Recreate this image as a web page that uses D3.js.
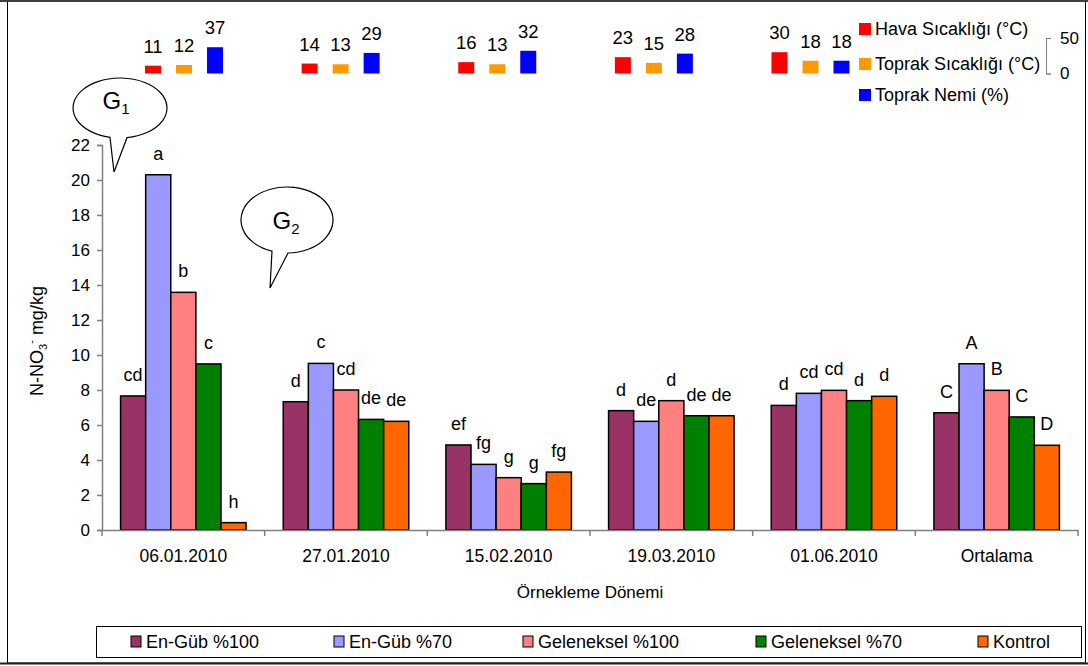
<!DOCTYPE html>
<html>
<head>
<meta charset="utf-8">
<script src="https://cdn.jsdelivr.net/npm/d3@7/dist/d3.min.js"></script>
<style>
  html, body { margin: 0; padding: 0; background: #fff; }
  svg { display: block; font-family: "Liberation Sans", Arial, sans-serif; }
</style>
</head>
<body>
<svg id="chart" width="1088" height="666"></svg>
<script>
// Sampling periods and treatments
const categories = ["06.01.2010", "27.01.2010", "15.02.2010", "19.03.2010", "01.06.2010", "Ortalama"];
const series = ["En-Güb %100", "En-Güb %70", "Geleneksel %100", "Geleneksel %70", "Kontrol"];
const seriesColors = ["#993366", "#9999FF", "#FF8080", "#008000", "#FF6600"];

// N-NO3 (mg/kg) per treatment
const enGub100 = [7.66, 7.33, 4.86, 6.82, 7.12, 6.70];
const enGub70 = [20.3, 9.52, 3.75, 6.21, 7.81, 9.50];
const geleneksel100 = [13.58, 8.0, 2.99, 7.39, 7.98, 7.98];
const geleneksel70 = [9.49, 6.32, 2.65, 6.53, 7.39, 6.46];
const kontrol = [0.42, 6.21, 3.31, 6.53, 7.64, 4.84];

// Significance groups shown above the bars
const harfEnGub100 = ["cd", "d", "ef", "d", "d", "C"];
const harfEnGub70 = ["a", "c", "fg", "de", "cd", "A"];
const harfGeleneksel100 = ["b", "cd", "g", "d", "cd", "B"];
const harfGeleneksel70 = ["c", "de", "g", "de", "d", "C"];
const harfKontrol = ["h", "de", "fg", "de", "d", "D"];

const yTicks = [0, 2, 4, 6, 8, 10, 12, 14, 16, 18, 20, 22];

// Climate values for each sampling date
const climateDates = categories.slice(0, 5);
const climateNames = ["Hava Sıcaklığı (°C)", "Toprak Sıcaklığı (°C)", "Toprak Nemi (%)"];
const climateColors = ["#FF0000", "#FF9900", "#0000FF"];
const havaSicakligi = [11, 14, 16, 23, 30];
const toprakSicakligi = [12, 13, 13, 15, 18];
const toprakNemi = [37, 29, 32, 28, 18];
const climateTicks = [0, 50];

const values = [enGub100, enGub70, geleneksel100, geleneksel70, kontrol];
const letters = [harfEnGub100, harfEnGub70, harfGeleneksel100, harfGeleneksel70, harfKontrol];
const climate = [havaSicakligi, toprakSicakligi, toprakNemi];

const FONT = "Liberation Sans, Arial, sans-serif";
const svg = d3.select("#chart");

// Outer frame
svg.append("rect").attr("x", 7.5).attr("y", 1).attr("width", 1078).attr("height", 662)
  .attr("fill", "none").attr("stroke", "#000").attr("stroke-width", 1);
svg.append("line").attr("x1", 0).attr("x2", 1088).attr("y1", 1).attr("y2", 1)
  .attr("stroke", "#404040").attr("stroke-width", 2);
svg.append("line").attr("x1", 0).attr("x2", 1088).attr("y1", 663.5).attr("y2", 663.5)
  .attr("stroke", "#202020").attr("stroke-width", 2);

// Main scales
const x0 = d3.scaleBand().domain(categories).range([102, 1078]).padding(0);
const x1 = d3.scaleBand().domain(series).range([0, x0.bandwidth()])
  .paddingInner(0).paddingOuter(0.74);
const y = d3.scaleLinear().domain([0, 22]).range([530, 145]);

// Bars
const rows = categories.map((c, i) => ({
  cat: c,
  items: series.map((s, j) => ({ s, j, v: values[j][i], lab: letters[j][i] }))
}));

const groups = svg.append("g").selectAll("g.grp").data(rows).join("g")
  .attr("class", "grp")
  .attr("transform", d => `translate(${x0(d.cat)},0)`);

groups.selectAll("rect").data(d => d.items).join("rect")
  .attr("x", d => x1(d.s))
  .attr("y", d => y(d.v))
  .attr("width", x1.bandwidth())
  .attr("height", d => y(0) - y(d.v))
  .attr("fill", d => seriesColors[d.j])
  .attr("stroke", "#000").attr("stroke-width", 1.5);

groups.selectAll("text.lab").data(d => d.items).join("text")
  .attr("class", "lab")
  .attr("x", d => x1(d.s) + x1.bandwidth() / 2)
  .attr("y", d => y(d.v) - 15)
  .attr("text-anchor", "middle")
  .attr("font-size", 18)
  .attr("fill", "#000")
  .text(d => d.lab);

// Y axis
const yAxis = svg.append("g").attr("transform", "translate(102,0)")
  .call(d3.axisLeft(y).tickValues(yTicks).tickSize(5).tickPadding(7));
yAxis.select(".domain").attr("stroke", "#808080").attr("stroke-width", 1.5);
yAxis.selectAll(".tick line").attr("stroke", "#808080").attr("stroke-width", 1.5);
yAxis.selectAll(".tick text").attr("font-size", 17).attr("fill", "#000")
  .attr("font-family", FONT);

// X axis: baseline with ticks at group boundaries
const xAxis = svg.append("g").attr("transform", "translate(0,530)")
  .call(d3.axisBottom(x0).tickSize(0).tickPadding(20));
xAxis.select(".domain").attr("stroke", "#808080").attr("stroke-width", 1.5);
xAxis.selectAll(".tick text").attr("font-size", 17.5).attr("fill", "#000")
  .attr("font-family", FONT);
const bounds = categories.map(c => x0(c)).concat([x0.range()[1]]);
xAxis.selectAll("line.bnd").data(bounds).join("line").attr("class", "bnd")
  .attr("x1", d => d).attr("x2", d => d).attr("y1", 0).attr("y2", 6)
  .attr("stroke", "#808080").attr("stroke-width", 1.5);

// Axis titles
svg.append("text").attr("x", 590).attr("y", 598).attr("text-anchor", "middle")
  .attr("font-size", 17).text("Örnekleme Dönemi");

const yTitle = svg.append("text")
  .attr("transform", "translate(43,341) rotate(-90)")
  .attr("text-anchor", "middle").attr("font-size", 18);
yTitle.append("tspan").text("N-NO");
yTitle.append("tspan").attr("font-size", 11).attr("dy", 4).text("3");
yTitle.append("tspan").attr("font-size", 11).attr("dy", -12).text("-");
yTitle.append("tspan").attr("dy", 8).text(" mg/kg");

// Climate mini bars at the top
const mx = d3.scaleBand().domain(climateDates).range([105.7, 888.8]).padding(0);
const mx1 = d3.scaleBand().domain(climateNames).range([0, mx.bandwidth()])
  .paddingInner(0.484).paddingOuter(1.268);
const my = d3.scaleLinear().domain([0, 50]).range([73.5, 38]);

const mrows = climateDates.map((c, i) => ({
  cat: c,
  items: climateNames.map((n, k) => ({ n, k, v: climate[k][i] }))
}));
const mg = svg.append("g").selectAll("g").data(mrows).join("g")
  .attr("transform", d => `translate(${mx(d.cat)},0)`);
mg.selectAll("rect").data(d => d.items).join("rect")
  .attr("x", d => mx1(d.n)).attr("y", d => my(d.v))
  .attr("width", mx1.bandwidth()).attr("height", d => my(0) - my(d.v))
  .attr("fill", d => climateColors[d.k]);
mg.selectAll("text").data(d => d.items).join("text")
  .attr("x", d => mx1(d.n) + mx1.bandwidth() / 2)
  .attr("y", d => my(d.v) - 13)
  .attr("text-anchor", "middle").attr("font-size", 18.5)
  .text(d => d.v);

// Climate legend
const leg = svg.append("g").selectAll("g").data(climateNames).join("g")
  .attr("transform", (d, i) => `translate(859,${[23, 58, 89][i]})`);
leg.append("rect").attr("width", 12).attr("height", 12)
  .attr("fill", (d, i) => climateColors[i]);
leg.append("text").attr("x", 16).attr("y", 12).attr("font-size", 18).text(d => d);

// Climate scale bracket
const brk = svg.append("g").attr("transform", "translate(1046,0)")
  .call(d3.axisRight(my).tickValues(climateTicks).tickSize(5).tickPadding(9));
brk.select(".domain").attr("stroke", "#808080");
brk.selectAll(".tick line").attr("stroke", "#808080");
brk.selectAll(".tick text").attr("font-size", 17).attr("fill", "#000")
  .attr("font-family", FONT);

// Callout bubbles
function callout(cx, cy, rx, ry, bx1, bx2, tipX, tipY) {
  const ya = cy + ry * Math.sqrt(1 - ((bx1 - cx) / rx) ** 2);
  const yb = cy + ry * Math.sqrt(1 - ((bx2 - cx) / rx) ** 2);
  return `M${bx2},${yb} A${rx},${ry} 0 1 0 ${bx1},${ya} L${tipX},${tipY} Z`;
}
const bubbles = [
  { d: callout(120, 108, 47, 30, 110, 127, 114, 172), tx: 116, ty: 109, sub: "1" },
  { d: callout(287, 220, 46, 33, 272, 288, 270, 288), tx: 286, ty: 229, sub: "2" }
];
bubbles.forEach(b => {
  svg.append("path").attr("d", b.d).attr("fill", "#fff")
    .attr("stroke", "#000").attr("stroke-width", 1.2);
  const t = svg.append("text").attr("x", b.tx).attr("y", b.ty)
    .attr("text-anchor", "middle").attr("font-size", 24);
  t.append("tspan").text("G");
  t.append("tspan").attr("font-size", 15).attr("dy", 5).text(b.sub);
});

// Bottom legend
const legX = [131, 334, 523, 756, 978];
svg.append("rect").attr("x", 96.5).attr("y", 626.5).attr("width", 985).attr("height", 31)
  .attr("fill", "#fff").attr("stroke", "#000").attr("stroke-width", 1);
const bl = svg.append("g").selectAll("g").data(series).join("g")
  .attr("transform", (d, i) => `translate(${legX[i]},636)`);
bl.append("rect").attr("width", 10).attr("height", 11)
  .attr("fill", (d, i) => seriesColors[i]).attr("stroke", "#000").attr("stroke-width", 1);
bl.append("text").attr("x", 15).attr("y", 12).attr("font-size", 18).text(d => d);
</script>
</body>
</html>
